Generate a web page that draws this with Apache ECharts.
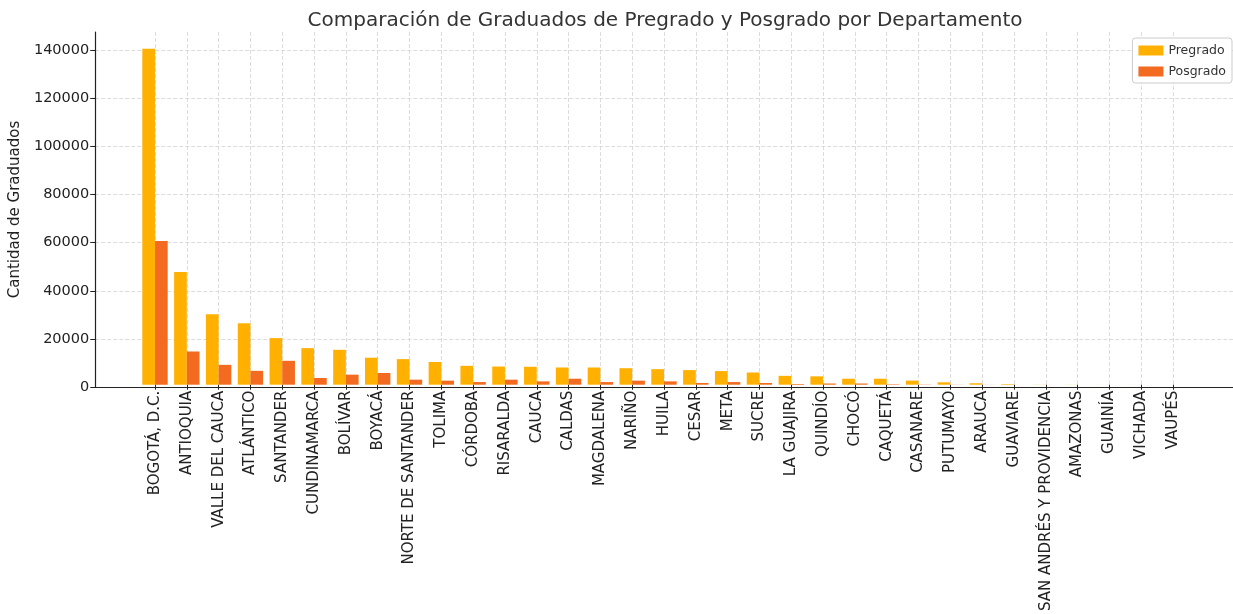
<!DOCTYPE html>
<html>
<head>
<meta charset="utf-8">
<script src="https://cdn.jsdelivr.net/npm/echarts@6/dist/echarts.min.js"></script>
<style>
    html, body { margin: 0; padding: 0; background: #fff; }
    #chartBox { width: 1233px; height: 614px; }
</style>
</head>
<body>
<div id="chartBox"></div>
<script>
// departamentos, en el mismo orden que el gráfico
var departamentos = ['BOGOTÁ, D.C.', 'ANTIOQUIA', 'VALLE DEL CAUCA', 'ATLÁNTICO', 'SANTANDER', 'CUNDINAMARCA',
    'BOLÍVAR', 'BOYACÁ', 'NORTE DE SANTANDER', 'TOLIMA', 'CÓRDOBA', 'RISARALDA', 'CAUCA', 'CALDAS',
    'MAGDALENA', 'NARIÑO', 'HUILA', 'CESAR', 'META', 'SUCRE', 'LA GUAJIRA', 'QUINDÍO', 'CHOCÓ', 'CAQUETÁ',
    'CASANARE', 'PUTUMAYO', 'ARAUCA', 'GUAVIARE', 'SAN ANDRÉS Y PROVIDENCIA', 'AMAZONAS', 'GUAINÍA',
    'VICHADA', 'VAUPÉS'];
var pregrado = [140600, 47200, 29500, 25700, 19500, 15300, 14600, 11300, 10700, 9500, 7900, 7600, 7500, 7200,
    7200, 6900, 6500, 6100, 5700, 5100, 3700, 3500, 2500, 2500, 1700, 1000, 600, 250, 60, 40, 20, 20, 10];
var posgrado = [60100, 13900, 8300, 5800, 10000, 2800, 4200, 4900, 2100, 1700, 1100, 2100, 1400, 2500,
    1100, 1700, 1400, 700, 1100, 700, 300, 500, 500, 200, 100, 50, 30, 10, 5, 5, 3, 3, 2];
var yTicks = [0, 20000, 40000, 60000, 80000, 100000, 120000, 140000];
var yMax = 147600;

var fuente = 'DejaVu Sans';
var chartDom = document.getElementById('chartBox');
var myChart = echarts.init(chartDom);

var option = {
    backgroundColor: '#fff',
    animation: false,
    title: {
        text: 'Comparación de Graduados de Pregrado y Posgrado por Departamento',
        left: 660,
        textAlign: 'center',
        top: 6,
        textStyle: { fontFamily: fuente, fontSize: 20, fontWeight: 'normal', color: '#333' }
    },
    legend: {
        orient: 'vertical',
        right: 1,
        top: 38,
        icon: 'rect',
        itemWidth: 25,
        itemHeight: 10,
        itemGap: 8,
        padding: [6, 6, 5, 6],
        backgroundColor: '#fff',
        borderColor: '#ccc',
        borderWidth: 1,
        borderRadius: 3,
        textStyle: { fontFamily: fuente, fontSize: 12.5, color: '#333' },
        data: ['Pregrado', 'Posgrado']
    },
    grid: [
        // marco completo: eje y y linea base
        { left: 90, right: -3, top: 32, bottom: 227 },
        // zona de categorias: del primer al ultimo departamento
        { left: 155, right: 60, top: 32, bottom: 227 }
    ],
    xAxis: [
        {
            gridIndex: 0,
            type: 'value',
            min: 0,
            max: 1,
            axisLine: { show: true, lineStyle: { color: '#222', width: 1.2 } },
            axisTick: { show: false },
            axisLabel: { show: false },
            splitLine: { show: false }
        },
        {
            gridIndex: 1,
            type: 'category',
            boundaryGap: false,
            data: departamentos,
            axisLine: { show: false },
            axisTick: { show: true, length: 5, lineStyle: { color: '#222', width: 1 } },
            axisLabel: {
                rotate: 90,
                interval: 0,
                margin: 6,
                fontFamily: fuente,
                fontSize: 15,
                color: '#222'
            },
            splitLine: { show: true, lineStyle: { color: '#d3d3d3', type: [4, 2], width: 0.8 } }
        }
    ],
    yAxis: [
        {
            gridIndex: 0,
            type: 'value',
            min: 0,
            max: yMax,
            interval: 20000,
            name: 'Cantidad de Graduados',
            nameLocation: 'middle',
            nameGap: 68,
            nameTextStyle: { fontFamily: fuente, fontSize: 15, color: '#222' },
            axisLine: { show: true, lineStyle: { color: '#222', width: 1.2 } },
            axisTick: { show: true, length: 5, lineStyle: { color: '#222' } },
            axisLabel: {
                fontFamily: fuente,
                fontSize: 14.5,
                color: '#222',
                margin: 6,
                showMaxLabel: false,
                formatter: function (v) { return yTicks.indexOf(v) >= 0 ? String(v) : ''; }
            },
            splitLine: { show: true, showMaxLine: false, lineStyle: { color: '#d3d3d3', type: [4, 2], width: 0.8 } }
        },
        {
            gridIndex: 1,
            type: 'value',
            min: 0,
            max: yMax,
            show: false
        }
    ],
    series: [
        {
            name: 'Pregrado',
            type: 'bar',
            xAxisIndex: 1,
            yAxisIndex: 1,
            barWidth: 12.7,
            barGap: '0%',
            clip: false,
            itemStyle: { color: '#FFB000' },
            data: pregrado
        },
        {
            name: 'Posgrado',
            type: 'bar',
            xAxisIndex: 1,
            yAxisIndex: 1,
            barWidth: 12.7,
            barGap: '0%',
            clip: false,
            itemStyle: { color: '#F26B21' },
            data: posgrado
        }
    ]
};
myChart.setOption(option);
</script>
</body>
</html>
